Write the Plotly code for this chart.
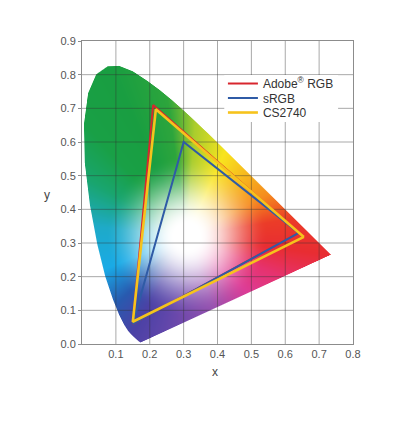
import numpy as np
import plotly.graph_objects as go

# Spectral locus (x, y), 380 nm -> 700 nm, as drawn in the picture
locus_x = [0.1741, 0.1740, 0.1738, 0.1736, 0.1733, 0.1730, 0.1726, 0.1721, 0.1714, 0.1703,
           0.1689, 0.1669, 0.1644, 0.1611, 0.1566, 0.1510, 0.1440, 0.1355, 0.1241, 0.1096,
           0.0913, 0.0687, 0.0454, 0.0235, 0.0082, 0.0060, 0.0180, 0.0420, 0.0760, 0.1100,
           0.1500, 0.1929, 0.2296, 0.2658, 0.3016, 0.3373, 0.3731, 0.4087, 0.4441, 0.4788,
           0.5125, 0.5448, 0.5752, 0.6029, 0.6270, 0.6482, 0.6658, 0.6801, 0.6915, 0.7006,
           0.7079, 0.7140, 0.7190, 0.7230, 0.7260, 0.7300, 0.7334, 0.7347]
locus_y = [0.0050, 0.0050, 0.0049, 0.0049, 0.0048, 0.0048, 0.0048, 0.0048, 0.0051, 0.0058,
           0.0069, 0.0086, 0.0109, 0.0138, 0.0177, 0.0227, 0.0297, 0.0399, 0.0578, 0.0868,
           0.1327, 0.2007, 0.2950, 0.4127, 0.5384, 0.6548, 0.7450, 0.8010, 0.8250, 0.8260,
           0.8100, 0.7816, 0.7543, 0.7243, 0.6923, 0.6589, 0.6245, 0.5896, 0.5547, 0.5202,
           0.4866, 0.4544, 0.4242, 0.3965, 0.3725, 0.3514, 0.3340, 0.3197, 0.3083, 0.2993,
           0.2920, 0.2859, 0.2809, 0.2770, 0.2740, 0.2700, 0.2666, 0.2653]

# Gamut triangles (R, G, B, back to R)
adobe_x = [0.64, 0.21, 0.15, 0.64]
adobe_y = [0.33, 0.71, 0.06, 0.33]
srgb_x = [0.64, 0.30, 0.15, 0.64]
srgb_y = [0.33, 0.60, 0.06, 0.33]
cs2740_x = [0.655, 0.218, 0.150, 0.655]
cs2740_y = [0.318, 0.697, 0.066, 0.318]

series_names = ["Adobe<sup>®</sup> RGB", "sRGB", "CS2740"]
series_colors = ["#d8262e", "#2f5ba6", "#f6c31c"]
legend_rows = [0.8597, 0.8119, 0.7640]

x_ticks = [0.1, 0.2, 0.3, 0.4, 0.5, 0.6, 0.7, 0.8]
y_ticks = [0.0, 0.1, 0.2, 0.3, 0.4, 0.5, 0.6, 0.7, 0.8, 0.9]

# Colour anchors: angle (deg) around the white point -> colour
white_point = [0.31, 0.32]
hue_angle = [-158, -136, -119, -104.5, -70, -43, -23, -7.5, 9.5, 27.5, 66, 86, 98, 114, 132, 150, 174]
hue_r = [25, 40, 75, 95, 150, 220, 230, 232, 235, 245, 248, 170, 45, 25, 25, 25, 30]
hue_g = [170, 90, 65, 70, 80, 60, 50, 45, 60, 140, 228, 205, 165, 158, 160, 165, 170]
hue_b = [230, 175, 165, 170, 175, 150, 110, 50, 40, 30, 30, 45, 60, 65, 70, 110, 200]

# ---- build the colour-filled chromaticity image (one image pixel per screen pixel) ----
wx, wy = white_point
px = np.array(locus_x + [locus_x[0]])
py = np.array(locus_y + [locus_y[0]])
pts = []
for i in range(len(px) - 1):
    n = max(2, int(np.hypot(px[i + 1] - px[i], py[i + 1] - py[i]) / 0.0008))
    t = np.linspace(0, 1, n, endpoint=False)
    pts.append(np.stack([px[i] + (px[i + 1] - px[i]) * t, py[i] + (py[i + 1] - py[i]) * t], 1))
pts = np.concatenate(pts)
ang = np.arctan2(pts[:, 1] - wy, pts[:, 0] - wx)
rad = np.hypot(pts[:, 1] - wy, pts[:, 0] - wx)
o = np.argsort(ang)
ang_e = np.concatenate([ang[o] - 2 * np.pi, ang[o], ang[o] + 2 * np.pi])
rad_e = np.concatenate([rad[o], rad[o], rad[o]])

nx, ny = 271, 303
dx, dy = 0.8 / nx, 0.9 / ny
gx = (np.arange(nx) + 0.5) * dx
gy = (np.arange(ny) + 0.5) * dy
GX, GY = np.meshgrid(gx, gy)
theta = np.arctan2(GY - wy, GX - wx)
r = np.hypot(GY - wy, GX - wx)
R = np.interp(theta, ang_e, rad_e)
alpha = np.clip((R - r) / 0.003 + 0.5, 0, 1)

deg = np.degrees(theta)
ha = np.array(hue_angle, float)
ha_e = np.concatenate([ha - 360, ha, ha + 360])
chan = []
for c in (hue_r, hue_g, hue_b):
    ce = np.array(c * 3, float)
    chan.append(np.interp(deg, ha_e, ce))
s = np.clip((r - 0.035) / (0.24 - 0.035), 0, 1)
s = s * s * (3 - 2 * s)
rgb = [np.round(255 * (1 - s) + ch * s) for ch in chan]
z = np.dstack(rgb + [np.round(alpha, 2)])

fig = go.Figure()
fig.add_trace(go.Image(z=z, colormodel="rgba", x0=dx / 2, y0=dy / 2, dx=dx, dy=dy,
                       hoverinfo="skip"))

# grid lines drawn over the colours
gxs, gys = [], []
for xv in x_ticks[:-1]:
    gxs += [xv, xv, None]
    gys += [0, 0.9, None]
for yv in y_ticks[1:-1]:
    gxs += [0, 0.8, None]
    gys += [yv, yv, None]
fig.add_trace(go.Scatter(x=gxs, y=gys, mode="lines", line=dict(color="rgba(50,50,50,0.42)", width=1),
                         showlegend=False, hoverinfo="skip"))

legend_ids = ["legend", "legend2", "legend3"]
for name, xs, ys, col, w, lg in zip(series_names, [adobe_x, srgb_x, cs2740_x], [adobe_y, srgb_y, cs2740_y],
                                    series_colors, [2, 2, 2.6], legend_ids):
    fig.add_trace(go.Scatter(x=xs, y=ys, mode="lines", name=name, legend=lg,
                             line=dict(color=col, width=w)))

font_family = "Liberation Sans, Arial, Helvetica, sans-serif"
axis_common = dict(showgrid=False, zeroline=False, showline=True, mirror=True, linecolor="#8c8c8c",
                   linewidth=1, tickcolor="#8c8c8c",
                   tickfont=dict(family=font_family, size=11, color="#555555"), layer="above traces")
legend_style = dict(x=0.52, xanchor="left", yanchor="middle", bgcolor="rgba(0,0,0,0)",
                    font=dict(family=font_family, size=12, color="#333333"), borderwidth=0)
fig.update_layout(
    width=388, height=422,
    margin=dict(l=74, r=43, t=33, b=86),
    paper_bgcolor="white", plot_bgcolor="white",
    xaxis=dict(range=[0, 0.8], tickvals=x_ticks, tickformat=".1f", autorange=False, ticks="",
               **axis_common),
    yaxis=dict(range=[0, 0.9], tickvals=y_ticks, tickformat=".1f", autorange=False, ticks="outside",
               ticklen=3, scaleanchor=False, **axis_common),
    legend=dict(y=legend_rows[0], **legend_style),
    legend2=dict(y=legend_rows[1], **legend_style),
    legend3=dict(y=legend_rows[2], **legend_style),
    shapes=[dict(type="rect", xref="paper", yref="paper", x0=0.525, x1=0.945, y0=0.733, y1=0.888,
                 fillcolor="white", line=dict(width=0), layer="above")],
    annotations=[
        dict(text="x", xref="x", yref="paper", x=0.392, y=0, yshift=-28, yanchor="middle",
             showarrow=False, font=dict(family=font_family, size=12, color="#444444")),
        dict(text="y", xref="paper", yref="y", x=0, xshift=-35, xanchor="center", y=0.442,
             yanchor="middle", showarrow=False, font=dict(family=font_family, size=12, color="#444444")),
    ],
)
fig.write_html("out.html")
